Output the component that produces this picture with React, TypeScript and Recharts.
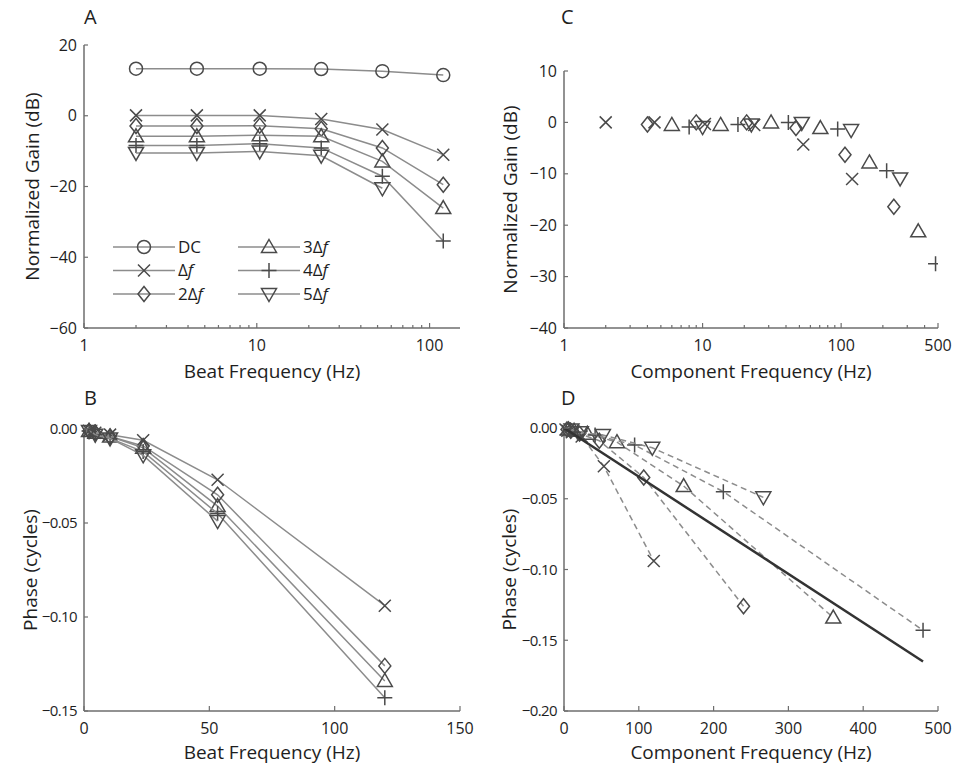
import React from "react";
import { ScatterChart, Scatter, XAxis, YAxis, Label } from "recharts";

// beat frequencies (Hz) used in panels A and B
const beatFreq = [2, 4.5, 10.4, 23.6, 53.3, 120];

// panel A: normalized gain (dB) vs beat frequency
const gainDC = [13.3, 13.3, 13.3, 13.2, 12.6, 11.5];
const gain1 = [0.1, 0.1, 0.1, -0.9, -3.9, -11.0];
const gain2 = [-2.9, -2.9, -2.8, -3.7, -9.1, -19.5];
const gain3 = [-5.8, -5.8, -5.5, -5.8, -12.9, -26.1];
const gain4 = [-8.4, -8.4, -7.9, -9.1, -17.1, -35.4];
const gain5 = [-10.5, -10.5, -10.1, -11.3, -20.5];

// panels B and D: phase (cycles)
const phase1 = [-0.001, -0.002, -0.003, -0.006, -0.027, -0.094];
const phase2 = [-0.001, -0.002, -0.004, -0.009, -0.035, -0.126];
const phase3 = [-0.001, -0.002, -0.004, -0.010, -0.041, -0.134];
const phase4 = [-0.001, -0.003, -0.005, -0.012, -0.045, -0.143];
const phase5 = [-0.001, -0.003, -0.005, -0.014, -0.049];

// panels C and D: component frequency (Hz) of each harmonic
const comp1 = [2, 4.5, 10.4, 23.6, 53.3, 120];
const comp2 = [4, 9, 20.8, 47.2, 106.6, 240];
const comp3 = [6, 13.5, 31.2, 70.8, 160, 360];
const comp4 = [8, 18, 41.6, 94.4, 213, 480];
const comp5 = [10, 22.5, 52, 118, 266.5];

// panel C: gain normalized per harmonic (dB)
const normGain1 = [0, 0, -0.3, -0.5, -4.3, -11.0];
const normGain2 = [-0.4, 0, 0, -1.1, -6.3, -16.4];
const normGain3 = [-0.5, -0.5, 0, -1.1, -7.8, -21.2];
const normGain4 = [-0.9, -0.4, 0, -1.3, -9.4, -27.5];
const normGain5 = [-0.9, -0.4, -0.1, -1.5, -10.9];

// panel D: pure delay line
const delayFreq = [0, 480];
const delayPhase = [0, -0.165];

// axis ticks
const gainTicksA = [-60, -40, -20, 0, 20];
const gainTicksC = [-40, -30, -20, -10, 0, 10];
const phaseTicksB = [-0.15, -0.1, -0.05, 0];
const phaseTicksD = [-0.2, -0.15, -0.1, -0.05, 0];
const beatLogTicks = [1, 2, 3, 4, 5, 6, 7, 8, 9, 10, 20, 30, 40, 50, 60, 70, 80, 90, 100];
const compLogTicks = [1, 2, 3, 4, 5, 6, 7, 8, 9, 10, 20, 30, 40, 50, 60, 70, 80, 90, 100, 200, 300, 400, 500];
const beatLinTicks = [0, 50, 100, 150];
const compLinTicks = [0, 100, 200, 300, 400, 500];

const FONT = '"Open Sans", "Noto Sans", sans-serif';
const AXIS = "#6e6e6e";
const TEXT = "#1e1e1e";
const LINE = "#8c8c8c";
const MARK = "#4a4a4a";

const zip = (xs: number[], ys: number[]) => ys.map((y, i) => ({ x: xs[i], y }));

const fmt = (v: number, digits: number) =>
  (v < 0 ? "\u2212" : "") + Math.abs(v).toFixed(digits);

function Marker({ cx, cy, kind }: { cx: number; cy: number; kind: string }) {
  const p = { fill: "none", stroke: MARK, strokeWidth: 1.5 };
  if (cx == null || cy == null) return <g />;
  switch (kind) {
    case "o":
      return <circle cx={cx} cy={cy} r={6.5} {...p} />;
    case "x":
      return (
        <path d={`M${cx - 6},${cy - 6}L${cx + 6},${cy + 6}M${cx - 6},${cy + 6}L${cx + 6},${cy - 6}`} {...p} />
      );
    case "d":
      return <polygon points={`${cx},${cy - 7.5} ${cx + 6},${cy} ${cx},${cy + 7.5} ${cx - 6},${cy}`} {...p} />;
    case "^":
      return <polygon points={`${cx},${cy - 7.5} ${cx + 7.5},${cy + 5.5} ${cx - 7.5},${cy + 5.5}`} {...p} />;
    case "+":
      return <path d={`M${cx - 7.5},${cy}L${cx + 7.5},${cy}M${cx},${cy - 7.5}L${cx},${cy + 7.5}`} {...p} />;
    case "v":
      return <polygon points={`${cx},${cy + 7.5} ${cx + 7.5},${cy - 5.5} ${cx - 7.5},${cy - 5.5}`} {...p} />;
    default:
      return <g />;
  }
}

const shapeOf = (kind: string) => (props: any) => <Marker cx={props.cx} cy={props.cy} kind={kind} />;

function XTick(props: any) {
  const { x, y, payload, labels } = props;
  const v = payload.value;
  const major = labels.includes(v);
  return (
    <g>
      <line x1={x} x2={x} y1={y} y2={y - (major ? 5 : 3)} stroke={AXIS} strokeWidth={1.2} />
      {major && (
        <text x={x} y={y + 17} dy="0.35em" textAnchor="middle" fontSize={16} fill={TEXT} fontFamily={FONT}>
          {v}
        </text>
      )}
    </g>
  );
}

function YTick(props: any) {
  const { x, y, payload, digits } = props;
  const small = digits > 0;
  return (
    <g>
      <line x1={x} x2={x + 4} y1={y} y2={y} stroke={AXIS} strokeWidth={1.2} />
      <text
        x={x - 7} y={y} dy="0.35em" textAnchor="end" fontSize={small ? 15 : 16}
        letterSpacing={small ? -0.6 : 0} fill={TEXT} fontFamily={FONT}
      >
        {fmt(payload.value, digits)}
      </text>
    </g>
  );
}

const titleStyle = { fontSize: 19, fill: TEXT, fontFamily: FONT };

const harmonics = [
  { name: "Δf", kind: "x", gain: gain1, phase: phase1, comp: comp1, norm: normGain1 },
  { name: "2Δf", kind: "d", gain: gain2, phase: phase2, comp: comp2, norm: normGain2 },
  { name: "3Δf", kind: "^", gain: gain3, phase: phase3, comp: comp3, norm: normGain3 },
  { name: "4Δf", kind: "+", gain: gain4, phase: phase4, comp: comp4, norm: normGain4 },
  { name: "5Δf", kind: "v", gain: gain5, phase: phase5, comp: comp5, norm: normGain5 },
];

function LegendLabel({ x, y, text }: { x: number; y: number; text: string }) {
  const parts = text.split("f");
  return (
    <text x={x} y={y} dy="0.35em" fontSize={17} fill={TEXT} fontFamily={FONT}>
      {text === "DC" ? "DC" : parts[0]}
      {text !== "DC" && <tspan fontStyle="italic">f</tspan>}
    </text>
  );
}

function LegendA() {
  const entries = [
    { name: "DC", kind: "o" },
    ...harmonics.map((h) => ({ name: h.name, kind: h.kind })),
  ];
  const rows = [247, 270.5, 294];
  return (
    <svg width={475} height={385} style={{ position: "absolute", left: 0, top: 0, pointerEvents: "none" }}>
      {entries.map((e, i) => {
        const col = Math.floor(i / 3);
        const y = rows[i % 3];
        const x0 = col === 0 ? 113 : 238;
        return (
          <g key={e.name}>
            <line x1={x0} x2={x0 + 62} y1={y} y2={y} stroke={LINE} strokeWidth={1.5} />
            <Marker cx={x0 + 31} cy={y} kind={e.kind} />
            <LegendLabel x={x0 + 65} y={y} text={e.name} />
          </g>
        );
      })}
    </svg>
  );
}

const letterStyle = (left: number, top: number): React.CSSProperties => ({
  position: "absolute",
  left,
  top,
  fontSize: 20,
  fontFamily: FONT,
  color: TEXT,
});

export default function App() {
  return (
    <div style={{ position: "absolute", left: 0, top: 0, width: 953, height: 771, background: "#fff", overflow: "hidden" }}>
      {/* A: gain vs beat frequency */}
      <div style={{ position: "absolute", left: 0, top: 0 }}>
        <ScatterChart width={475} height={385} margin={{ top: 45, right: 15, bottom: 0, left: 0 }}>
          <XAxis
            type="number" dataKey="x" scale="log" domain={[1, 150]} allowDataOverflow
            ticks={beatLogTicks} interval={0} height={57} tickSize={0} tickMargin={0} tickLine={false}
            axisLine={{ stroke: AXIS, strokeWidth: 1.5 }}
            tick={(p: any) => <XTick {...p} labels={[1, 10, 100]} />}
          >
            <Label value="Beat Frequency (Hz)" position="insideBottom" offset={7} style={titleStyle} />
          </XAxis>
          <YAxis
            type="number" dataKey="y" domain={[-60, 20]} ticks={gainTicksA} interval={0} width={84}
            tickSize={0} tickMargin={0} tickLine={false} axisLine={{ stroke: AXIS, strokeWidth: 1.5 }}
            tick={(p: any) => <YTick {...p} digits={0} />}
          >
            <Label value="Normalized Gain (dB)" angle={-90} position="insideLeft" offset={32} style={{ ...titleStyle, textAnchor: "middle" }} />
          </YAxis>
          <Scatter
            name="DC" data={zip(beatFreq, gainDC)} fill="none" isAnimationActive={false}
            line={{ stroke: LINE, strokeWidth: 1.5 }} shape={shapeOf("o")}
          />
          {harmonics.map((h) => (
            <Scatter
              key={h.name} name={h.name} data={zip(beatFreq, h.gain)} fill="none" isAnimationActive={false}
              line={{ stroke: LINE, strokeWidth: 1.5 }} shape={shapeOf(h.kind)}
            />
          ))}
        </ScatterChart>
        <LegendA />
      </div>

      {/* B: phase vs beat frequency */}
      <div style={{ position: "absolute", left: 0, top: 385 }}>
        <ScatterChart width={475} height={386} margin={{ top: 44, right: 15, bottom: 0, left: 0 }}>
          <XAxis
            type="number" dataKey="x" domain={[0, 150]} ticks={beatLinTicks} interval={0} height={60}
            tickSize={0} tickMargin={0} tickLine={false} axisLine={{ stroke: AXIS, strokeWidth: 1.5 }}
            tick={(p: any) => <XTick {...p} labels={beatLinTicks} />}
          >
            <Label value="Beat Frequency (Hz)" position="insideBottom" offset={12} style={titleStyle} />
          </XAxis>
          <YAxis
            type="number" dataKey="y" domain={[-0.15, 0]} ticks={phaseTicksB} interval={0} width={84}
            tickSize={0} tickMargin={0} tickLine={false} axisLine={{ stroke: AXIS, strokeWidth: 1.5 }}
            tick={(p: any) => <YTick {...p} digits={2} />}
          >
            <Label value="Phase (cycles)" angle={-90} position="insideLeft" offset={30} style={{ ...titleStyle, textAnchor: "middle" }} />
          </YAxis>
          {harmonics.map((h) => (
            <Scatter
              key={h.name} name={h.name} data={zip(beatFreq, h.phase)} fill="none" isAnimationActive={false}
              line={{ stroke: LINE, strokeWidth: 1.5 }} shape={shapeOf(h.kind)}
            />
          ))}
        </ScatterChart>
      </div>

      {/* C: normalized gain vs component frequency */}
      <div style={{ position: "absolute", left: 476, top: 0 }}>
        <ScatterChart width={477} height={385} margin={{ top: 71, right: 15, bottom: 0, left: 0 }}>
          <XAxis
            type="number" dataKey="x" scale="log" domain={[1, 500]} allowDataOverflow
            ticks={compLogTicks} interval={0} height={57} tickSize={0} tickMargin={0} tickLine={false}
            axisLine={{ stroke: AXIS, strokeWidth: 1.5 }}
            tick={(p: any) => <XTick {...p} labels={[1, 10, 100, 500]} />}
          >
            <Label value="Component Frequency (Hz)" position="insideBottom" offset={7} style={titleStyle} />
          </XAxis>
          <YAxis
            type="number" dataKey="y" domain={[-40, 10]} ticks={gainTicksC} interval={0} width={88}
            tickSize={0} tickMargin={0} tickLine={false} axisLine={{ stroke: AXIS, strokeWidth: 1.5 }}
            tick={(p: any) => <YTick {...p} digits={0} />}
          >
            <Label value="Normalized Gain (dB)" angle={-90} position="insideLeft" offset={34} style={{ ...titleStyle, textAnchor: "middle" }} />
          </YAxis>
          {harmonics.map((h) => (
            <Scatter
              key={h.name} name={h.name} data={zip(h.comp, h.norm)} fill="none" isAnimationActive={false}
              shape={shapeOf(h.kind)}
            />
          ))}
        </ScatterChart>
      </div>

      {/* D: phase vs component frequency */}
      <div style={{ position: "absolute", left: 476, top: 385 }}>
        <ScatterChart width={477} height={386} margin={{ top: 43, right: 15, bottom: 0, left: 0 }}>
          <XAxis
            type="number" dataKey="x" domain={[0, 500]} ticks={compLinTicks} interval={0} height={60}
            tickSize={0} tickMargin={0} tickLine={false} axisLine={{ stroke: AXIS, strokeWidth: 1.5 }}
            tick={(p: any) => <XTick {...p} labels={compLinTicks} />}
          >
            <Label value="Component Frequency (Hz)" position="insideBottom" offset={12} style={titleStyle} />
          </XAxis>
          <YAxis
            type="number" dataKey="y" domain={[-0.2, 0]} ticks={phaseTicksD} interval={0} width={88}
            tickSize={0} tickMargin={0} tickLine={false} axisLine={{ stroke: AXIS, strokeWidth: 1.5 }}
            tick={(p: any) => <YTick {...p} digits={2} />}
          >
            <Label value="Phase (cycles)" angle={-90} position="insideLeft" offset={33} style={{ ...titleStyle, textAnchor: "middle" }} />
          </YAxis>
          {harmonics.map((h) => (
            <Scatter
              key={h.name} name={h.name} data={zip(h.comp, h.phase)} fill="none" isAnimationActive={false}
              line={{ stroke: LINE, strokeWidth: 1.5, strokeDasharray: "6 4" }} shape={shapeOf(h.kind)}
            />
          ))}
          <Scatter
            name="delay" data={zip(delayFreq, delayPhase)} fill="none" isAnimationActive={false}
            line={{ stroke: "#333", strokeWidth: 2.5 }} shape={() => <g />}
          />
        </ScatterChart>
      </div>

      <div style={letterStyle(84, 3)}>A</div>
      <div style={letterStyle(84, 384)}>B</div>
      <div style={letterStyle(561, 3)}>C</div>
      <div style={letterStyle(561, 384)}>D</div>
    </div>
  );
}
